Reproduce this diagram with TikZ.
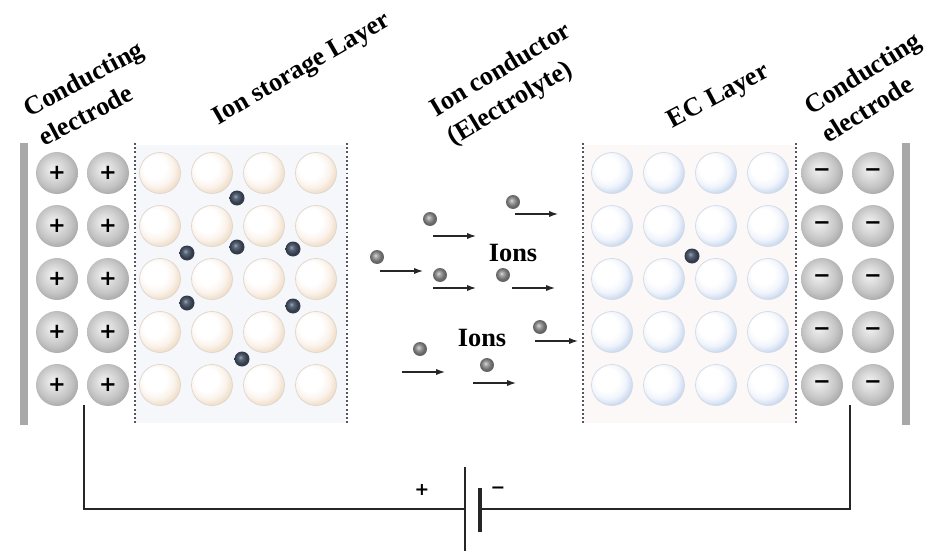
\documentclass[tikz,border=0pt]{standalone}
\usepackage{fontspec}
\setmainfont{Liberation Serif}
\newfontfamily\signfont{DejaVu Sans}
\usetikzlibrary{arrows.meta,calc}

% palette
\definecolor{cream1}{HTML}{FBF3EC}
\definecolor{cream2}{HTML}{F0DEC8}
\definecolor{cream3}{HTML}{D0B18A}
\definecolor{creamrim}{HTML}{DED6CC}
\definecolor{blue1}{HTML}{F0F4FB}
\definecolor{blue2}{HTML}{C9D9F0}
\definecolor{blue3}{HTML}{98B5E2}
\definecolor{bluerim}{HTML}{D2DAE4}
\definecolor{gry0}{HTML}{F2F2F2}
\definecolor{gry1}{HTML}{DCDCDC}
\definecolor{gry2}{HTML}{C4C4C4}
\definecolor{gry3}{HTML}{A2A2A2}
\definecolor{ion0}{HTML}{9AA4B4}
\definecolor{ion1}{HTML}{5A6678}
\definecolor{ion2}{HTML}{333C4A}
\definecolor{mid0}{HTML}{DADADA}
\definecolor{mid1}{HTML}{A0A0A0}
\definecolor{mid2}{HTML}{666666}
\definecolor{barcol}{HTML}{A8A8A8}
\definecolor{sepcol}{HTML}{55555F}
\definecolor{storagebg}{HTML}{F5F7FB}
\definecolor{ecbg}{HTML}{FCF8F8}

% sphere shadings, lit from the upper left (visible disc = central 50bp)
\pgfdeclareradialshading{creamball}{\pgfpoint{-9bp}{9bp}}{color(0bp)=(white); color(14bp)=(white); color(22bp)=(cream1); color(29bp)=(cream2); color(35bp)=(cream3); color(50bp)=(cream3)}
\pgfdeclareradialshading{blueball}{\pgfpoint{-9bp}{9bp}}{color(0bp)=(white); color(14bp)=(white); color(22bp)=(blue1); color(29bp)=(blue2); color(35bp)=(blue3); color(50bp)=(blue3)}
\pgfdeclareradialshading{grayball}{\pgfpoint{-5bp}{5bp}}{color(0bp)=(gry0); color(10bp)=(gry1); color(20bp)=(gry2); color(30bp)=(gry3); color(50bp)=(gry3)}
\pgfdeclareradialshading{darkion}{\pgfpoint{-6bp}{6bp}}{color(0bp)=(ion0); color(8bp)=(ion1); color(20bp)=(ion2); color(50bp)=(ion2)}
\pgfdeclareradialshading{greyion}{\pgfpoint{-6bp}{6bp}}{color(0bp)=(mid0); color(8bp)=(mid1); color(20bp)=(mid2); color(50bp)=(mid2)}

\begin{document}
\begin{tikzpicture}[x=0.02cm, y=-0.02cm,
  chargeball/.style={circle, minimum size=0.84cm, inner sep=0pt, shading=grayball,
    font=\signfont\bfseries\fontsize{12}{12}\selectfont},
  cball/.style={circle, minimum size=0.82cm, inner sep=0pt, shading=creamball, draw=creamrim, line width=0.4pt},
  bball/.style={circle, minimum size=0.82cm, inner sep=0pt, shading=blueball, draw=bluerim, line width=0.4pt},
  sion/.style={circle, minimum size=0.3cm, inner sep=0pt, shading=darkion},
  mion/.style={circle, minimum size=0.28cm, inner sep=0pt, shading=greyion},
  electrode/.style={rectangle, fill=barcol, minimum width=0.16cm, minimum height=5.64cm, inner sep=0pt},
  sep/.style={draw=sepcol, line width=0.6pt, dash pattern=on 1.1pt off 1.3pt},
  lbl/.style={font=\bfseries\fontsize{15}{19}\selectfont, align=left, inner sep=0pt},
  ionlbl/.style={font=\bfseries\fontsize{15}{15}\selectfont, inner sep=0pt},
  ionarrow/.style={draw=black!85, line width=0.7pt, -{Latex[length=5pt,width=3.5pt]}},
  wire/.style={draw=black!85, line width=1.2pt},
  longplate/.style={draw=black!85, line width=1.1pt},
  shortplate/.style={draw=black!85, line width=1.8pt},
  polarity/.style={font=\signfont\bfseries\fontsize{10}{10}\selectfont, inner sep=0pt}]

\useasboundingbox (0,0) rectangle (926,551);

% faint tint of the two active layers
\fill[storagebg] (136,145) rectangle (346,423);
\fill[ecbg] (584,145) rectangle (795,423);

% headings
\node[lbl, rotate=28] (ceL) at (91,93) {Conducting\\electrode};
\node[lbl, rotate=30] (isl) at (302,70) {Ion storage Layer};
\node[lbl, rotate=31] (icd) at (510,85) {Ion conductor\\(Electrolyte)};
\node[lbl, rotate=28] (ecl) at (719,97) {EC Layer};
\node[lbl, rotate=32] (ceR) at (871,87) {Conducting\\electrode};

% electrode plates
\node[electrode] (elL) at (24,284) {};
\node[electrode] (elR) at (906,284) {};

% layer boundaries
\foreach \x in {135,347,583,796}
  \draw[sep] (\x,143) -- (\x,425);

% lattice of spheres
\foreach \r/\y in {1/173,2/226,3/279,4/332,5/385}{
  \node[chargeball] (pa\r) at (57,\y) {+};
  \node[chargeball] (pb\r) at (108,\y) {+};
  \foreach \c/\x in {1/160,2/212,3/264,4/316}
    \node[cball] (s\c\r) at (\x,\y) {};
  \foreach \c/\x in {1/612,2/664,3/716,4/768}
    \node[bball] (b\c\r) at (\x,\y) {};
  \node[chargeball] (na\r) at (822,\y) {−};
  \node[chargeball] (nb\r) at (873,\y) {−};
}

% ions held in the storage layer and in the EC layer
\foreach \n/\x/\y in {1/237/198,2/187/253,3/237/247,4/293/249,5/187/303,6/293/306,7/242/359}
  \node[sion] (h\n) at (\x,\y) {};
\node[sion] (ec1) at (692,256) {};

% ions drifting through the electrolyte
\foreach \n/\x/\y/\dx/\dy in {1/430/219/3/17, 2/513/202/2/12, 3/377/257/3/14, 4/440/275/-7/13,
                              5/503/275/9/13, 6/540/327/-5/14, 7/420/349/-18/23, 8/487/365/-14/18}{
  \node[mion] (m\n) at (\x,\y) {};
  \draw[ionarrow] ($(m\n)+(\dx,\dy)$) -- ++(43,0);
}
\node[ionlbl] (ionsA) at (513,253) {Ions};
\node[ionlbl] (ionsB) at (482,338) {Ions};

% external circuit with battery
\coordinate (wl) at (84,405);
\coordinate (wr) at (850,405);
\coordinate (plusTop) at (465,467);
\coordinate (plusBot) at (465,551);
\coordinate (minusTop) at (480,488);
\coordinate (minusBot) at (480,532);
\coordinate (plusJoin) at (465,509);
\coordinate (minusJoin) at (480,509);
\draw[longplate] (plusTop) -- (plusBot);
\draw[shortplate] (minusTop) -- (minusBot);
\draw[wire] (wl) |- (plusJoin);
\draw[wire] (wr) |- (minusJoin);
\node[polarity] (pl) at (422,490) {+};
\node[polarity] (mn) at (498,490) {−};
\end{tikzpicture}
\end{document}
